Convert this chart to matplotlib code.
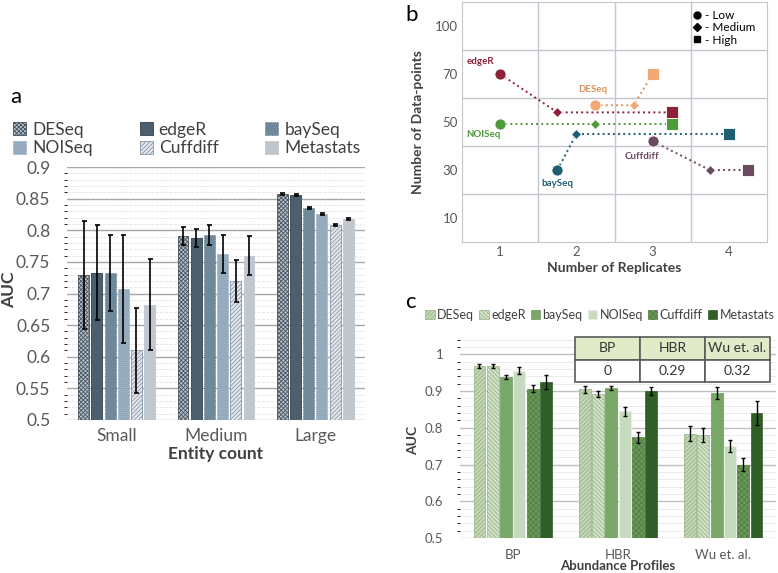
import numpy as np
import matplotlib.pyplot as plt
from matplotlib.lines import Line2D

plt.rcParams['font.family'] = ['Lato', 'DejaVu Sans']
plt.rcParams['hatch.linewidth'] = 0.6

W, H = 778, 573
fig = plt.figure(figsize=(W / 100, H / 100), dpi=100)


def px_axes(x0, y0, x1, y1):
    # pixel box (top-left origin) -> figure axes
    return fig.add_axes([x0 / W, 1 - y1 / H, (x1 - x0) / W, (y1 - y0) / H])


methods = ['DESeq', 'edgeR', 'baySeq', 'NOISeq', 'Cuffdiff', 'Metastats']

# ---- panel a data
a_groups = ['Small', 'Medium', 'Large']
a_deseq = [0.729, 0.791, 0.857]
a_edger = [0.733, 0.788, 0.856]
a_bayseq = [0.733, 0.792, 0.835]
a_noiseq = [0.707, 0.763, 0.826]
a_cuffdiff = [0.610, 0.720, 0.808]
a_metastats = [0.682, 0.760, 0.818]
a_deseq_err = [0.085, 0.014, 0.002]
a_edger_err = [0.075, 0.014, 0.002]
a_bayseq_err = [0.060, 0.016, 0.002]
a_noiseq_err = [0.085, 0.030, 0.002]
a_cuffdiff_err = [0.067, 0.033, 0.002]
a_metastats_err = [0.072, 0.031, 0.002]

# ---- panel b data (replicates, data-points) for low / medium / high
b_edger_x, b_edger_y = [1.0, 1.75, 3.25], [70, 54, 54]
b_deseq_x, b_deseq_y = [2.25, 2.75, 3.0], [57, 57, 70]
b_noiseq_x, b_noiseq_y = [1.0, 2.25, 3.25], [49, 49, 49]
b_bayseq_x, b_bayseq_y = [1.75, 2.0, 4.0], [30, 45, 45]
b_cuffdiff_x, b_cuffdiff_y = [3.0, 3.75, 4.25], [42, 30, 30]
b_xticks = [1, 2, 3, 4]
b_yticks = [10, 30, 50, 70, 90]
b_ytick_labels = ['10', '30', '50', '70', '100']

# ---- panel c data
c_groups = ['BP', 'HBR', 'Wu et. al.']
c_deseq = [0.968, 0.905, 0.784]
c_edger = [0.968, 0.893, 0.781]
c_bayseq = [0.938, 0.909, 0.895]
c_noiseq = [0.956, 0.845, 0.750]
c_cuffdiff = [0.907, 0.774, 0.700]
c_metastats = [0.925, 0.900, 0.841]
c_deseq_err = [0.005, 0.010, 0.020]
c_edger_err = [0.005, 0.008, 0.019]
c_bayseq_err = [0.006, 0.005, 0.017]
c_noiseq_err = [0.010, 0.013, 0.017]
c_cuffdiff_err = [0.010, 0.015, 0.017]
c_metastats_err = [0.018, 0.012, 0.032]
table_header = ['BP', 'HBR', 'Wu et. al.']
table_values = ['0', '0.29', '0.32']

tick_col = '#595959'
lab_col = '#404040'

# ================= panel a
ax = px_axes(67, 167, 365, 420)
a_vals = [a_deseq, a_edger, a_bayseq, a_noiseq, a_cuffdiff, a_metastats]
a_errs = [a_deseq_err, a_edger_err, a_bayseq_err, a_noiseq_err, a_cuffdiff_err, a_metastats_err]
a_style = [
    dict(color='#b9c3cc', edgecolor='#44535f', hatch='xxxxxxxx', lw=0.6),
    dict(color='#4b5f6e', edgecolor='#33424e', lw=0.6),
    dict(color='#6f899b', edgecolor='#4a6070', lw=0.6, ls=':'),
    dict(color='#8fa5b8', edgecolor='#a9bccb', hatch='........', lw=0.6),
    dict(color='#e4e8ed', edgecolor='#8797a8', hatch='////////', lw=0.6),
    dict(color='#c0c7cf', edgecolor='#c0c7cf', lw=0.6),
]
x = np.arange(len(a_groups))
step, bw = 0.133, 0.11
handles = []
for j, m in enumerate(methods):
    pos = x + (j - 2.5) * step
    b = ax.bar(pos, a_vals[j], bw, zorder=3, **a_style[j])
    ax.errorbar(pos, a_vals[j], yerr=a_errs[j], fmt='none', ecolor='black',
                elinewidth=1.2, capsize=1.8, capthick=1.2, zorder=4)
    handles.append(b)
ax.set_xlim(-0.5, 2.5)
ax.set_ylim(0.5, 0.9)
ax.set_yticks(np.arange(0.5, 0.901, 0.05))
ax.set_yticklabels(['0.5', '0.55', '0.6', '0.65', '0.7', '0.75', '0.8', '0.85', '0.9'])
ax.set_yticks(np.arange(0.5, 0.9, 0.01), minor=True)
ax.yaxis.grid(True, which='major', color='#a6a6a6', lw=1.0, zorder=0)
ax.yaxis.grid(True, which='minor', color='#e3e3e3', lw=0.6, ls='--', zorder=0)
ax.set_xticks(x)
ax.set_xticklabels(a_groups)
ax.tick_params(axis='both', length=0, labelsize=12.5, labelcolor=tick_col)
ax.tick_params(axis='y', pad=12)
ax.tick_params(axis='x', pad=6)
for s in ax.spines.values():
    s.set_visible(False)
ax.set_xlabel('Entity count', fontsize=12.5, fontweight='bold', color=lab_col, labelpad=1)
fig.text(9 / W, 1 - 290 / H, 'AUC', rotation=90, fontsize=12.5, fontweight='bold',
         color=lab_col, ha='center', va='center')
fig.text(10 / W, 1 - 97 / H, 'a', fontsize=16, ha='left', va='center')
order = [0, 3, 1, 4, 2, 5]
fig.legend([handles[i] for i in order], [methods[i] for i in order], ncol=3,
           loc='center left', bbox_to_anchor=(13 / W, 1 - 139 / H), frameon=False,
           borderpad=0, borderaxespad=0,
           fontsize=12.5, handlelength=0.75, handleheight=0.75, handletextpad=0.35,
           columnspacing=2.7, labelspacing=0.15, labelcolor=lab_col)

# ================= panel b
bx = px_axes(462, 2, 767, 242)
grid_col = '#c5c5cf'
series_b = [
    ('edgeR', b_edger_x, b_edger_y, '#8c2238', (-14, 9)),
    ('DESeq', b_deseq_x, b_deseq_y, '#e0915a', (-2, 11)),
    ('NOISeq', b_noiseq_x, b_noiseq_y, '#4f9a3a', (-12, -7)),
    ('baySeq', b_bayseq_x, b_bayseq_y, '#1e5e72', (0, -10)),
    ('Cuffdiff', b_cuffdiff_x, b_cuffdiff_y, '#6b4a5e', (-8, -11)),
]
for name, xs, ys, col, off in series_b:
    bx.plot(xs, ys, ls=':', lw=1.4, color=col, zorder=3)
    face = '#f2a877' if name == 'DESeq' else col
    bx.plot(xs[0], ys[0], 'o', ms=8, mfc=face, mec='white', mew=0.6, zorder=4)
    bx.plot(xs[1], ys[1], 'D', ms=5.5, mfc=face, mec='white', mew=0.6, zorder=4)
    bx.plot(xs[2], ys[2], 's', ms=8, mfc=face, mec='white', mew=0.6, zorder=4)
    bx.annotate(name, (xs[0], ys[0]), xytext=off, textcoords='offset points',
                fontsize=7, fontweight='bold', color=col, ha='center', va='center')
bx.set_xlim(0.5, 4.5)
bx.set_ylim(0, 100)
bx.set_xticks(b_xticks)
bx.set_yticks(b_yticks)
bx.set_yticklabels(b_ytick_labels)
for gx in [1.5, 2.5, 3.5]:
    bx.axvline(gx, color=grid_col, lw=1, zorder=1)
for gy in [20, 40, 60, 80]:
    bx.axhline(gy, color=grid_col, lw=1, zorder=1)
for s in bx.spines.values():
    s.set_color(grid_col)
bx.tick_params(axis='both', length=0, labelsize=9.5, labelcolor=tick_col, pad=3)
bx.set_xlabel('Number of Replicates', fontsize=10, fontweight='bold', color=lab_col, labelpad=3)
bx.set_ylabel('Number of Data-points', fontsize=10, fontweight='bold', color=lab_col, labelpad=8)
mk = [Line2D([], [], ls='none', marker='o', color='black', ms=5),
      Line2D([], [], ls='none', marker='D', color='black', ms=4.5),
      Line2D([], [], ls='none', marker='s', color='black', ms=5)]
bx.legend(mk, ['- Low', '- Medium', '- High'], loc='upper right', frameon=False,
          fontsize=8.5, handlelength=0.8, handletextpad=0.3, labelspacing=0.1,
          borderaxespad=0.3, bbox_to_anchor=(0.99, 1.0))
fig.text(405 / W, 1 - 15 / H, 'b', fontsize=16, ha='left', va='center')

# ================= panel c
cx = px_axes(460, 336, 776, 538)
c_vals = [c_deseq, c_edger, c_bayseq, c_noiseq, c_cuffdiff, c_metastats]
c_errs = [c_deseq_err, c_edger_err, c_bayseq_err, c_noiseq_err, c_cuffdiff_err, c_metastats_err]
c_style = [
    dict(color='#c5d8b9', edgecolor='#93b383', hatch='////////', lw=0.5),
    dict(color='#d4e3cb', edgecolor='#93b383', hatch='\\\\\\\\\\\\\\\\', lw=0.5),
    dict(color='#78a768', edgecolor='#6a995b', lw=0.5),
    dict(color='#c6dabd', edgecolor='#e6efe1', lw=0.8),
    dict(color='#6a9958', edgecolor='#4f7e42', hatch='xxxxxx', lw=0.5),
    dict(color='#2f5e27', edgecolor='#2f5e27', lw=0.5),
]
xc = np.arange(len(c_groups))
step_c, bw_c = 0.126, 0.113
c_handles = []
for j, m in enumerate(methods):
    pos = xc + (j - 2.5) * step_c
    b = cx.bar(pos, c_vals[j], bw_c, zorder=3, **c_style[j])
    cx.errorbar(pos, c_vals[j], yerr=c_errs[j], fmt='none', ecolor='black',
                elinewidth=1.0, capsize=1.5, capthick=1.0, zorder=4)
    c_handles.append(b)
cx.set_xlim(-0.5, 2.5)
cx.set_ylim(0.5, 1.05)
cx.set_yticks([0.5, 0.6, 0.7, 0.8, 0.9, 1.0])
cx.set_yticklabels(['0.5', '0.6', '0.7', '0.8', '0.9', '1'])
cx.set_yticks(np.arange(0.5, 1.05, 0.02), minor=True)
cx.yaxis.grid(True, which='major', color='#bfbfbf', lw=1.0, zorder=0)
cx.yaxis.grid(True, which='minor', color='#ebebeb', lw=0.7, zorder=0)
cx.set_xticks(xc)
cx.set_xticklabels(c_groups)
cx.tick_params(axis='both', length=0, labelsize=9.5, labelcolor=tick_col)
cx.tick_params(axis='y', pad=12)
cx.tick_params(axis='x', pad=8)
for s in cx.spines.values():
    s.set_visible(False)
fig.text(618 / W, 1 - 566 / H, 'Abundance Profiles', fontsize=9.5, fontweight='bold',
         color=lab_col, ha='center', va='center')
fig.text(413 / W, 1 - 440 / H, 'AUC', rotation=90, fontsize=10, fontweight='bold',
         color=lab_col, ha='center', va='center')
fig.text(405 / W, 1 - 302 / H, 'c', fontsize=16, ha='left', va='center')
fig.legend(c_handles, methods, ncol=6, loc='center', bbox_to_anchor=(600 / W, 1 - 315 / H),
           frameon=False, borderpad=0, fontsize=9, handlelength=0.75, handleheight=0.75,
           handletextpad=0.2, columnspacing=0.4, labelcolor=lab_col)
tb = cx.table(cellText=[table_header, table_values], cellLoc='center',
              bbox=[(575 - 460) / 316, (538 - 382) / 202, (770 - 575) / 316, (382 - 337) / 202])
tb.auto_set_font_size(False)
tb.set_fontsize(10)
tb.set_zorder(5)
for (r, c), cell in tb.get_celld().items():
    cell.set_edgecolor('#5a5a5a')
    cell.set_linewidth(1.2)
    cell.set_facecolor('#e2ebc8' if r == 0 else 'white')
    cell.get_text().set_color('#333333')

fig.savefig('out.png', dpi=100)
